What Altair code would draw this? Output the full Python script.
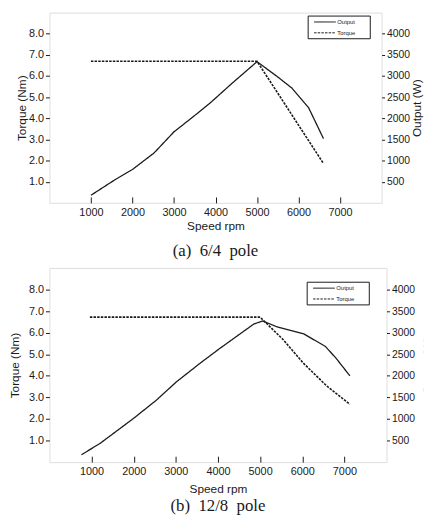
import altair as alt
import pandas as pd

# ---------------- data ----------------
# Panel (a) 6/4 pole
a_out_rpm = [1000, 1600, 2000, 2520, 3000, 3440, 3880, 4400, 5000, 5490, 5840, 6070, 6240, 6600]
a_out_w = [180, 560, 790, 1180, 1680, 2020, 2370, 2830, 3340, 2985, 2715, 2450, 2255, 1520]
a_tq_rpm = [1000, 5000, 6600]
a_tq_nm = [6.7, 6.7, 1.86]

# Panel (b) 12/8 pole
b_out_rpm = [760, 1210, 2000, 2540, 3010, 3560, 4030, 4850, 5060, 5390, 6040, 6550, 6800, 7130]
b_out_w = [170, 440, 1016, 1437, 1857, 2280, 2625, 3200, 3270, 3140, 2970, 2680, 2410, 2000]
b_tq_rpm = [960, 5000, 5550, 6020, 6570, 7130]
b_tq_nm = [6.72, 6.72, 5.67, 4.6, 3.55, 2.68]

x_ticks = [1000, 2000, 3000, 4000, 5000, 6000, 7000]
torque_ticks = [1.0, 2.0, 3.0, 4.0, 5.0, 6.0, 7.0, 8.0]
output_ticks = [500, 1000, 1500, 2000, 2500, 3000, 3500, 4000]
series_names = ["Output", "Torque"]
captions = ["(a)\u00a0 6/4\u00a0 pole", "(b)\u00a0 12/8\u00a0 pole"]

SANS = "Liberation Sans"
SERIF = "Liberation Serif"
INK = "#1a1a1a"


def panel(out_rpm, out_w, tq_rpm, tq_nm, caption, width, height,
          leg_x, leg_y, left_title_pad, x_label_pad, x_title_pad, cap_offset,
          right_title_pad):
    df_out = pd.DataFrame({"rpm": out_rpm, "val": out_w, "series": "Output"})
    df_tq = pd.DataFrame({"rpm": tq_rpm, "val": tq_nm, "series": "Torque"})

    x = alt.X("rpm:Q",
              scale=alt.Scale(domain=[0, 8000], nice=False, zero=False),
              axis=alt.Axis(values=x_ticks, format="d", title="Speed rpm",
                            domain=False, grid=False, offset=-6, tickSize=6,
                            tickColor=INK, labelPadding=x_label_pad,
                            labelFont=SANS, labelFontSize=11, labelColor=INK,
                            titleFont=SANS, titleFontSize=12,
                            titleFontWeight="normal", titleColor=INK,
                            titlePadding=x_title_pad))

    dash = alt.StrokeDash("series:N",
                          scale=alt.Scale(domain=series_names,
                                          range=[[1, 0], [2.5, 1.2]]),
                          title=None,
                          legend=alt.Legend(orient="none", legendX=leg_x,
                                            legendY=leg_y,
                                            symbolType="M0,0H5.5M13,0H13",
                                            symbolSize=64, symbolStrokeWidth=1,
                                            symbolStrokeColor=INK,
                                            symbolFillColor="transparent",
                                            labelFont=SANS, labelFontSize=6,
                                            labelColor=INK, labelOffset=19,
                                            padding=2, rowPadding=3,
                                            strokeColor=INK, fillColor="white"))

    torque = alt.Chart(df_tq).mark_line(color=INK, strokeWidth=1.6).encode(
        x=x,
        y=alt.Y("val:Q",
                scale=alt.Scale(domain=[0, 9], nice=False),
                axis=alt.Axis(values=torque_ticks, format=".1f",
                              title="Torque (Nm)", orient="left", domain=False,
                              grid=False, tickSize=4, tickColor=INK,
                              labelPadding=2, labelFont=SANS, labelFontSize=11,
                              labelColor=INK, titleFont=SANS, titleFontSize=12,
                              titleFontWeight="normal", titleColor=INK,
                              titlePadding=left_title_pad)),
        strokeDash=dash,
    )

    output = alt.Chart(df_out).mark_line(color=INK, strokeWidth=1.3).encode(
        x=x,
        y=alt.Y("val:Q",
                scale=alt.Scale(domain=[0, 4500], nice=False),
                axis=alt.Axis(values=output_ticks, format="d",
                              title="Output (W)", orient="right", domain=False,
                              grid=False, tickSize=3, tickColor=INK,
                              labelPadding=2, labelFont=SANS, labelFontSize=10.5,
                              labelColor=INK, titleFont=SANS, titleFontSize=12,
                              titleFontWeight="normal", titleColor=INK,
                              titleAngle=270, titleBaseline="top",
                              titlePadding=right_title_pad)),
        strokeDash=dash,
    )

    return alt.layer(torque, output).resolve_scale(y="independent").properties(
        width=width, height=height,
        title=alt.TitleParams(text=caption, orient="bottom", anchor="middle",
                              font=SERIF, fontSize=17, fontWeight="normal",
                              color=INK, offset=cap_offset),
    )


pa = panel(a_out_rpm, a_out_w, a_tq_rpm, a_tq_nm, captions[0], 337, 193,
           262, 3, 0, 4, 3, 12, 2)
pb = panel(b_out_rpm, b_out_w, b_tq_rpm, b_tq_nm, captions[1], 342, 197,
           261, 14, 7, 4, 7, 4, 8)

chart = alt.concat(pa, pb, columns=1, spacing=7, align="none").resolve_scale(
    strokeDash="independent").resolve_legend(strokeDash="independent").properties(
    padding={"left": 0, "top": 0, "right": -10, "bottom": 0}
).configure_view(stroke="#333", strokeWidth=1, strokeDash=[1, 1]
).configure(background="white")

chart.save("out.html", embed_options={"renderer": "svg", "actions": False})
